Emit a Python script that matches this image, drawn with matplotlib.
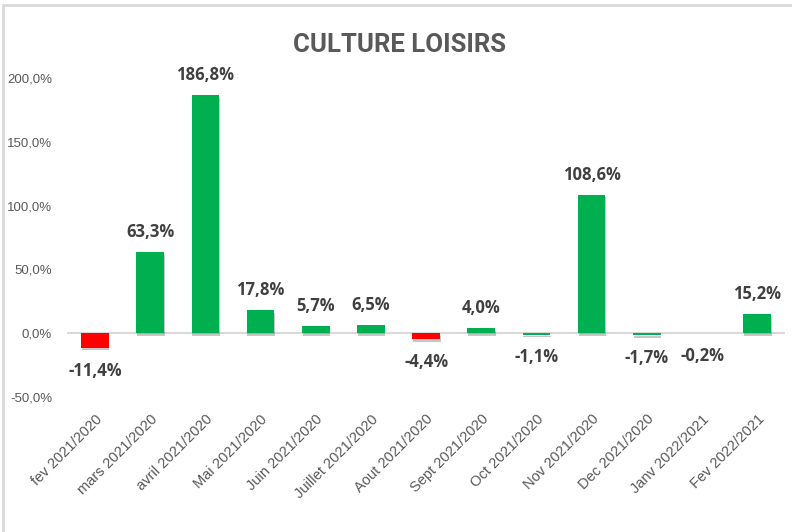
import matplotlib
matplotlib.use("Agg")
import matplotlib.pyplot as plt
import matplotlib.patheffects as pe
from matplotlib.ticker import FuncFormatter
from matplotlib.patches import Rectangle

categories = ["fev 2021/2020", "mars 2021/2020", "avril 2021/2020", "Mai 2021/2020",
              "Juin 2021/2020", "Juillet 2021/2020", "Aout 2021/2020", "Sept 2021/2020",
              "Oct 2021/2020", "Nov 2021/2020", "Dec 2021/2020", "Janv 2022/2021",
              "Fev 2022/2021"]
values = [-11.4, 63.3, 186.8, 17.8, 5.7, 6.5, -4.4, 4.0, -1.1, 108.6, -1.7, -0.2, 15.2]
colors = ["#FF0000", "#00B050", "#00B050", "#00B050", "#00B050", "#00B050", "#FF0000",
          "#00B050", "#00B050", "#00B050", "#00B050", "#E8E8E8", "#00B050"]
yticks = [-50, 0, 50, 100, 150, 200]

fig = plt.figure(figsize=(7.92, 5.32), dpi=100)
ax = fig.add_axes([0.085, 0.254, 0.906, 0.599])

x = list(range(len(categories)))
bars = ax.bar(x, values, width=0.5, color=colors, zorder=3)
for b in bars:
    b.set_path_effects([pe.SimplePatchShadow(offset=(0.5, -2), shadow_rgbFace="#000000", alpha=0.22), pe.Normal()])

ax.set_xlim(-0.5, len(categories) - 0.5)
ax.set_ylim(-50, 200)
ax.axhline(0, color="#D9D9D9", lw=1.5, zorder=2)

for s in ax.spines.values():
    s.set_visible(False)
ax.set_yticks(yticks)
ax.yaxis.set_major_formatter(FuncFormatter(lambda v, p: f"{v:.1f}%".replace(".", ",")))
ax.tick_params(axis="y", length=0, labelsize=9.5, labelcolor="#595959", pad=11)
ax.tick_params(axis="x", length=0, labelsize=10.5, labelcolor="#595959", pad=11)
ax.set_xticks(x)
ax.set_xticklabels(categories, rotation=45, ha="right", rotation_mode="anchor")
for lab in ax.get_xticklabels() + ax.get_yticklabels():
    lab.set_family(["Liberation Sans", "DejaVu Sans"])

for xi, v in zip(x, values):
    txt = f"{v:.1f}%".replace(".", ",")
    if v >= 0:
        ax.annotate(txt, (xi, v), xytext=(0, 8), textcoords="offset points",
                    ha="center", va="bottom", fontsize=12, fontweight="bold", color="#404040",
                    family=["Open Sans", "DejaVu Sans"])
    else:
        ax.annotate(txt, (xi, v), xytext=(0, -10), textcoords="offset points",
                    ha="center", va="top", fontsize=12, fontweight="bold", color="#404040",
                    family=["Open Sans", "DejaVu Sans"])

fig.text(0.505, 0.915, "CULTURE LOISIRS", ha="center", va="center", fontsize=18.5,
         fontweight="bold", color="#595959", family=["Roboto", "DejaVu Sans"])

# chart frame
fig.patches.append(Rectangle((0.004, -0.1), 1.2, 1.09, transform=fig.transFigure,
                             fill=False, edgecolor="#D9D9D9", lw=2))

fig.savefig("out.png", dpi=100)
